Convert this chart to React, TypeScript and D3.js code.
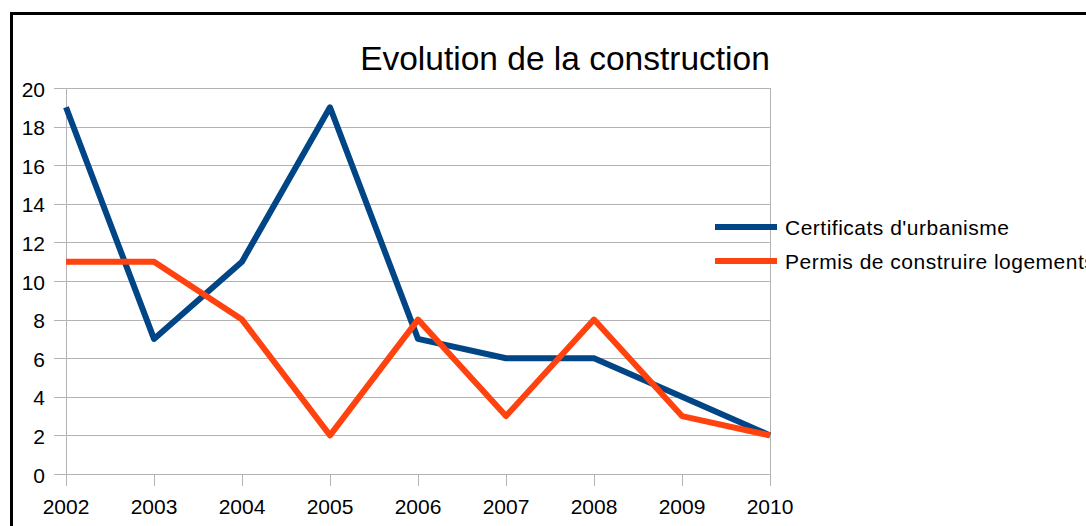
import React from "react";
import * as d3 from "d3";

const years = ["2002", "2003", "2004", "2005", "2006", "2007", "2008", "2009", "2010"];
const certificats = [19, 7, 11, 19, 7, 6, 6, 4, 2];
const permis = [11, 11, 8, 2, 8, 3, 8, 3, 2];
const yTicks = [0, 2, 4, 6, 8, 10, 12, 14, 16, 18, 20];
const seriesNames = ["Certificats d'urbanisme", "Permis de construire logements"];
const colors = ["#004586", "#ff420e"];

export default function App() {
  const W = 1086, H = 526;
  const left = 66, right = 770, top = 88, bottom = 474;
  const x = d3.scalePoint<string>().domain(years).range([left, right]);
  const y = d3.scaleLinear().domain([0, 20]).range([bottom, top]);
  const line = d3.line<number>().x((_, i) => x(years[i])!).y((d) => y(d));
  const series = [certificats, permis];
  const font = "'Liberation Sans', Arial, sans-serif";
  const grid = "#b3b3b3";
  return (
    <svg width={W} height={H} style={{ position: "absolute", left: 0, top: 0, background: "#fff" }} fontFamily={font}>
      <rect x={0} y={0} width={W} height={H} fill="#fff" />
      <rect x={11.5} y={13.5} width={1300} height={700} fill="none" stroke="#000" strokeWidth={3} />
      <text x={565} y={70} textAnchor="middle" fontSize={33.5} fill="#000">Evolution de la construction</text>
      {yTicks.map((t) => (
        <g key={t}>
          <line x1={54} x2={right} y1={Math.round(y(t)) + 0.5} y2={Math.round(y(t)) + 0.5} stroke={grid} strokeWidth={1} />
          <text x={45} y={y(t) + 8.6} textAnchor="end" fontSize={21} fill="#000">{t}</text>
        </g>
      ))}
      <line x1={left + 0.5} x2={left + 0.5} y1={top} y2={bottom} stroke={grid} strokeWidth={1} />
      <line x1={right + 0.5} x2={right + 0.5} y1={top} y2={bottom} stroke={grid} strokeWidth={1} />
      {years.map((yr) => (
        <g key={yr}>
          <line x1={Math.round(x(yr)!) + 0.5} x2={Math.round(x(yr)!) + 0.5} y1={bottom} y2={486} stroke={grid} strokeWidth={1} />
          <text x={x(yr)!} y={514} textAnchor="middle" fontSize={21} fill="#000">{yr}</text>
        </g>
      ))}
      {series.map((s, i) => (
        <path key={i} d={line(s)!} fill="none" stroke={colors[i]} strokeWidth={6} strokeLinejoin="round" />
      ))}
      {seriesNames.map((n, i) => (
        <g key={n}>
          <line x1={715} x2={777} y1={227 + i * 34} y2={227 + i * 34} stroke={colors[i]} strokeWidth={6} />
          <text x={785} y={227 + i * 34 + 7.5} fontSize={21} letterSpacing={0.5} fill="#000">{n}</text>
        </g>
      ))}
    </svg>
  );
}
